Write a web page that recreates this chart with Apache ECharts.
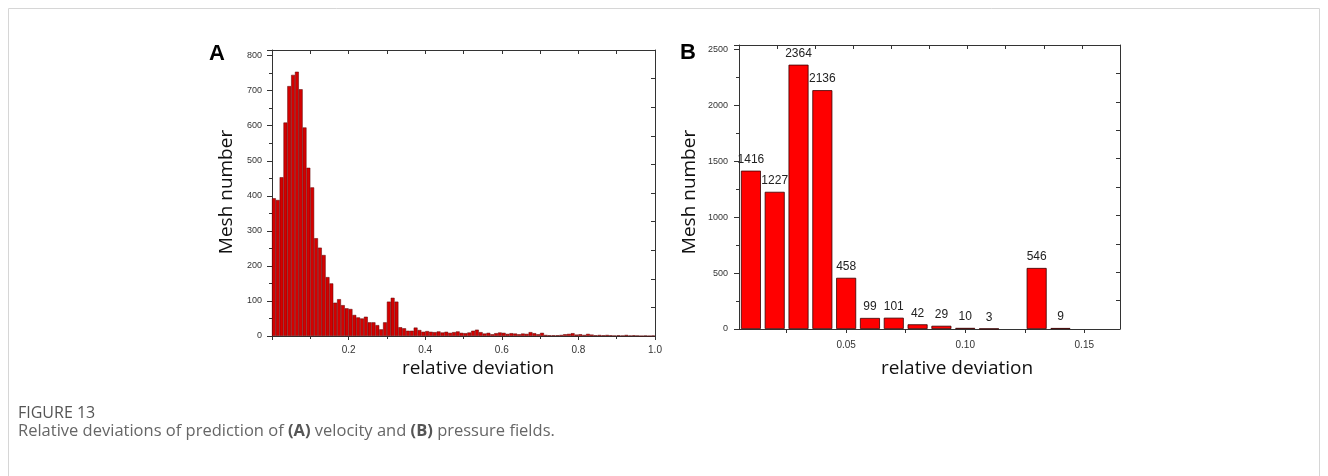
<!DOCTYPE html>
<html><head><meta charset="utf-8">
<script src="https://cdn.jsdelivr.net/npm/echarts@6/dist/echarts.min.js"></script>
<style>html,body{margin:0;padding:0;background:#fff}#c{width:1328px;height:476px}</style>
</head><body><div id="c"></div>
<script>
// ---- Panel A: velocity relative deviation histogram (bin centres, counts) ----
const aCenters = [0.005,0.015,0.025,0.035,0.045,0.055,0.065,0.075,0.085,0.095,
  0.105,0.115,0.125,0.135,0.145,0.155,0.165,0.175,0.185,0.195,
  0.205,0.215,0.225,0.235,0.245,0.255,0.265,0.275,0.285,0.295,
  0.305,0.315,0.325,0.335,0.345,0.355,0.365,0.375,0.385,0.395,
  0.405,0.415,0.425,0.435,0.445,0.455,0.465,0.475,0.485,0.495,
  0.505,0.515,0.525,0.535,0.545,0.555,0.565,0.575,0.585,0.595,
  0.605,0.615,0.625,0.635,0.645,0.655,0.665,0.675,0.685,0.695,
  0.705,0.715,0.725,0.735,0.745,0.755,0.765,0.775,0.785,0.795,
  0.805,0.815,0.825,0.835,0.845,0.855,0.865,0.875,0.885,0.895,
  0.905,0.915,0.925,0.935,0.945,0.955,0.965,0.975,0.985,0.995];
const aCounts = [393,388,453,609,713,745,754,704,595,480,
  424,279,252,231,168,150,95,105,88,79,
  77,60,53,50,55,39,39,31,19,39,
  98,109,98,25,22,15,15,24,17,12,
  14,12,11,13,10,12,9,11,13,9,
  8,10,15,18,11,7,9,5,8,10,
  9,6,8,7,5,7,6,11,8,5,
  9,3,2,2,2,3,5,6,8,4,
  5,3,6,4,2,3,2,3,2,1,
  2,1,3,1,2,1,0,1,0,1];
// ---- Panel B: pressure relative deviation ----
const bCenters = [0.01,0.02,0.03,0.04,0.05,0.06,0.07,0.08,0.09,0.10,0.11,0.13,0.14];
const bCounts  = [1416,1227,2364,2136,458,99,101,42,29,10,3,546,9];
const bXTickLabels = [0.05,0.10,0.15];
const bXTicks = [0.025,0.05,0.075,0.10,0.125,0.15];

const axisTitle = 'relative deviation';
const yTitle = 'Mesh number';

const chart = echarts.init(document.getElementById('c'), null, {renderer:'canvas'});
const tickFont = {fontFamily:'Liberation Sans, Arial, sans-serif', color:'#333'};
const lineStyle = {color:'#333', width:1};

function mirrorX(grid){
  return {type:'value', gridIndex:grid, position:'top', min:0, max:10, interval:1,
    axisLine:{show:true, onZero:false, lineStyle}, axisTick:{show:true, inside:true, length:4, lineStyle},
    axisLabel:{show:false}, splitLine:{show:false}};
}
function mirrorY(grid){
  return {type:'value', gridIndex:grid, position:'right', min:0, max:10, interval:1,
    axisLine:{show:true, onZero:false, lineStyle}, axisTick:{show:true, inside:true, length:4, lineStyle},
    axisLabel:{show:false}, splitLine:{show:false}};
}

const option = {
  animation:false,
  backgroundColor:'#fff',
  grid:[
    {left:272, top:50, width:383, height:286, show:false},
    {left:739, top:45, width:381, height:284, show:false}
  ],
  xAxis:[
    {type:'value', gridIndex:0, position:'bottom', min:0, max:1, interval:0.2,
      axisLine:{show:true, onZero:false, lineStyle},
      axisTick:{show:true, length:4, lineStyle},
      minorTick:{show:true, splitNumber:2, length:3, lineStyle},
      axisLabel:Object.assign({fontSize:10, margin:9, showMinLabel:false,
        formatter:v=>v.toFixed(1)}, tickFont),
      splitLine:{show:false}},
    mirrorX(0),
    {type:'value', gridIndex:1, position:'bottom', min:0.005, max:0.165,
      axisLine:{show:true, onZero:false, lineStyle},
      axisTick:{show:true, length:4, lineStyle, customValues:bXTicks},
      axisLabel:Object.assign({fontSize:10, margin:11, customValues:bXTickLabels,
        formatter:v=>v.toFixed(2)}, tickFont),
      splitLine:{show:false}},
    mirrorX(1)
  ],
  yAxis:[
    {type:'value', gridIndex:0, position:'left', min:0, max:816, interval:100,
      axisLine:{show:true, onZero:false, lineStyle},
      axisTick:{show:true, length:5, lineStyle},
      minorTick:{show:true, splitNumber:2, length:3, lineStyle},
      axisLabel:Object.assign({fontSize:9, margin:10, showMaxLabel:false, formatter:v=>String(v)}, tickFont),
      splitLine:{show:false}},
    mirrorY(0),
    {type:'value', gridIndex:1, position:'left', min:0, max:2540, interval:500,
      axisLine:{show:true, onZero:false, lineStyle},
      axisTick:{show:true, length:5, lineStyle},
      minorTick:{show:true, splitNumber:2, length:3, lineStyle},
      axisLabel:Object.assign({fontSize:9, margin:11, showMaxLabel:false, formatter:v=>String(v)}, tickFont),
      splitLine:{show:false}},
    mirrorY(1)
  ],
  series:[
    {type:'bar', xAxisIndex:0, yAxisIndex:0, barWidth:3.83,
      data:aCenters.map((x,i)=>[x,aCounts[i]]),
      itemStyle:{color:'#d40000', borderColor:'#5a0000', borderWidth:0.5}},
    {type:'bar', xAxisIndex:2, yAxisIndex:2, barWidth:20,
      data:bCenters.map((x,i)=>[x,bCounts[i]]),
      itemStyle:{color:'#ff0000', borderColor:'#3a0000', borderWidth:0.8},
      label:{show:true, position:'top', distance:5, fontSize:12, color:'#222',
        fontFamily:'Liberation Sans, Arial, sans-serif', formatter:p=>String(p.value[1])}}
  ],
  graphic:[
    {type:'rect', shape:{x:8.5, y:8.5, width:1311, height:480}, style:{fill:'none', stroke:'#d6d6d6', lineWidth:1}, silent:true},
    {type:'text', x:217, y:54, style:{text:'A', font:'bold 22px "Liberation Sans", Arial, sans-serif', fill:'#000', textAlign:'center', textVerticalAlign:'middle'}},
    {type:'text', x:688, y:53, style:{text:'B', font:'bold 22px "Liberation Sans", Arial, sans-serif', fill:'#000', textAlign:'center', textVerticalAlign:'middle'}},
    {type:'text', x:227, y:192, rotation:Math.PI/2, style:{text:yTitle, font:'19px "Open Sans", sans-serif', fill:'#111', textAlign:'center', textVerticalAlign:'middle'}},
    {type:'text', x:690, y:192, rotation:Math.PI/2, style:{text:yTitle, font:'19px "Open Sans", sans-serif', fill:'#111', textAlign:'center', textVerticalAlign:'middle'}},
    {type:'text', x:478, y:369, style:{text:axisTitle, font:'19px "Open Sans", sans-serif', fill:'#111', textAlign:'center', textVerticalAlign:'middle'}},
    {type:'text', x:957, y:369, style:{text:axisTitle, font:'19px "Open Sans", sans-serif', fill:'#111', textAlign:'center', textVerticalAlign:'middle'}},
    {type:'text', x:18, y:405, style:{text:'FIGURE 13', font:'16px "Open Sans", sans-serif', fill:'#555', textAlign:'left', textVerticalAlign:'top'}},
    {type:'text', x:18, y:423, style:{text:'Relative deviations of prediction of {b|(A)} velocity and {b|(B)} pressure fields.',
      font:'16.5px "Open Sans", sans-serif', fill:'#666', textAlign:'left', textVerticalAlign:'top',
      rich:{b:{fontWeight:'bold', fontFamily:'Open Sans', fontSize:16.5, fill:'#555'}}}}
  ]
};
chart.setOption(option);
</script>
</body></html>
